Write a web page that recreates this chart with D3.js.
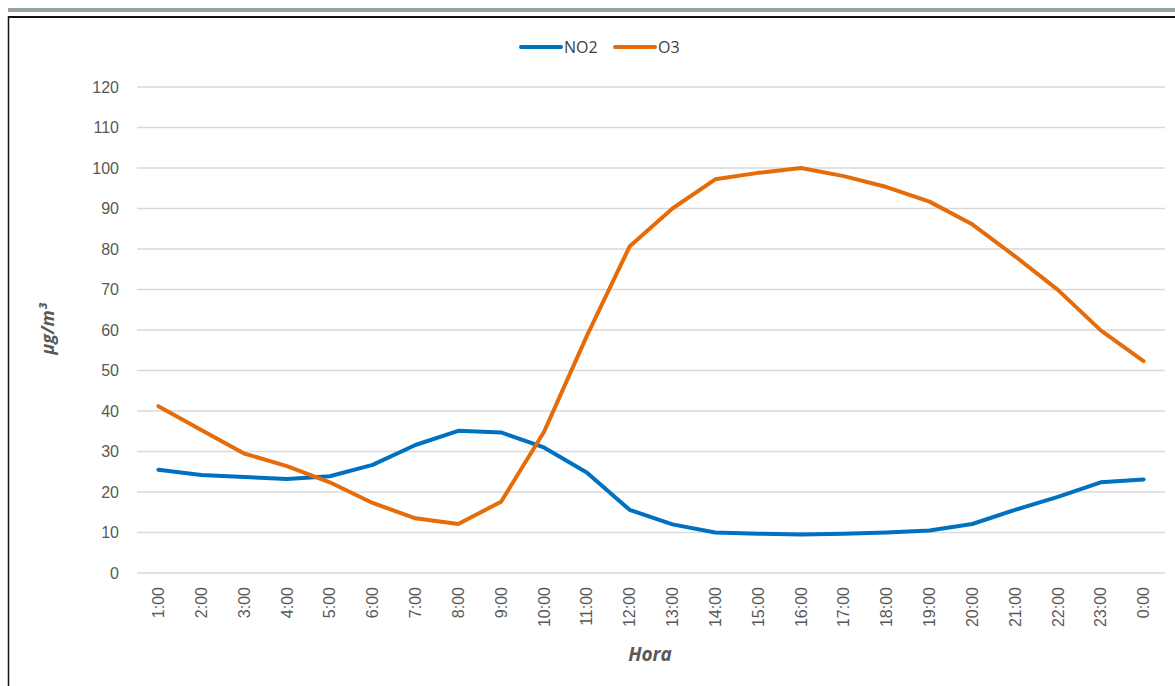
<!DOCTYPE html>
<html><head><meta charset="utf-8">
<script src="https://cdn.jsdelivr.net/npm/d3@7"></script>
<style>body{margin:0;background:#fff;}svg{display:block;font-family:"Open Sans",sans-serif;}</style>
</head><body><svg id="c" width="1175" height="686"></svg>
<script>
const hours = ["1:00","2:00","3:00","4:00","5:00","6:00","7:00","8:00","9:00","10:00","11:00","12:00","13:00","14:00","15:00","16:00","17:00","18:00","19:00","20:00","21:00","22:00","23:00","0:00"];
const no2 = [25.5,24.2,23.7,23.2,23.9,26.7,31.6,35.1,34.7,31.0,24.8,15.6,12.0,10.0,9.7,9.5,9.7,10.0,10.5,12.1,15.6,18.8,22.4,23.1];
const o3 = [41.2,35.3,29.5,26.4,22.4,17.3,13.5,12.1,17.6,34.8,58.5,80.6,90.0,97.2,98.8,100.0,98.0,95.3,91.7,86.1,78.2,69.9,59.9,52.3];
const yTicks = [0,10,20,30,40,50,60,70,80,90,100,110,120];
const seriesNames = ["NO2","O3"];
const colors = ["#0070C0","#E46C0A"];

const svg = d3.select("#c");
svg.append("rect").attr("x",8).attr("y",8).attr("width",1167).attr("height",4).attr("fill","#97a4a4");
svg.append("line").attr("x1",8).attr("x2",1175).attr("y1",17).attr("y2",17).attr("stroke","#111").attr("stroke-width",2);
svg.append("line").attr("x1",8.5).attr("x2",8.5).attr("y1",16).attr("y2",686).attr("stroke","#111").attr("stroke-width",1.5);

const x = d3.scaleBand().domain(hours).range([137,1165]);
const y = d3.scaleLinear().domain([0,120]).range([573,87]);

const grid = svg.append("g");
grid.selectAll("line").data(yTicks).join("line")
  .attr("x1",137).attr("x2",1165).attr("y1",d=>y(d)).attr("y2",d=>y(d))
  .attr("stroke","#d9d9d9").attr("stroke-width",1.5);

const yAxis = svg.append("g").attr("transform","translate(137,0)")
  .call(d3.axisLeft(y).tickValues(yTicks).tickSize(0).tickPadding(18));
yAxis.select(".domain").remove();
yAxis.selectAll("text").attr("fill","#595959").style("font-size","16px");

const xAxis = svg.append("g").attr("transform","translate(0,573)")
  .call(d3.axisBottom(x).tickSize(0));
xAxis.select(".domain").remove();
xAxis.selectAll("text").attr("fill","#595959").style("font-size","16px")
  .attr("transform","rotate(-90)").attr("text-anchor","end")
  .attr("x",-14).attr("y",0).attr("dy","0.35em");

svg.append("text").attr("x",650).attr("y",661).attr("text-anchor","middle")
  .attr("fill","#595959").style("font-size","19px").style("font-weight","bold").style("font-style","italic").text("Hora");
svg.append("text").attr("transform","translate(54,329) rotate(-90)").attr("text-anchor","middle")
  .attr("fill","#595959").style("font-size","18px").style("font-weight","bold").style("font-style","italic").text("µg/m³");

const line = d3.line().x((d,i)=>x(hours[i])+x.bandwidth()/2).y(d=>y(d));
[no2,o3].forEach((s,i)=>{
  svg.append("path").datum(s).attr("d",line).attr("fill","none")
    .attr("stroke",colors[i]).attr("stroke-width",4).attr("stroke-linejoin","round").attr("stroke-linecap","round");
});

const leg = [{x:521,name:seriesNames[0],c:colors[0]},{x:615,name:seriesNames[1],c:colors[1]}];
leg.forEach(l=>{
  svg.append("line").attr("x1",l.x).attr("x2",l.x+40).attr("y1",47).attr("y2",47)
    .attr("stroke",l.c).attr("stroke-width",4).attr("stroke-linecap","round");
  svg.append("text").attr("x",l.x+43).attr("y",53).attr("fill","#404040").style("font-size","16px").text(l.name);
});
</script></body></html>
